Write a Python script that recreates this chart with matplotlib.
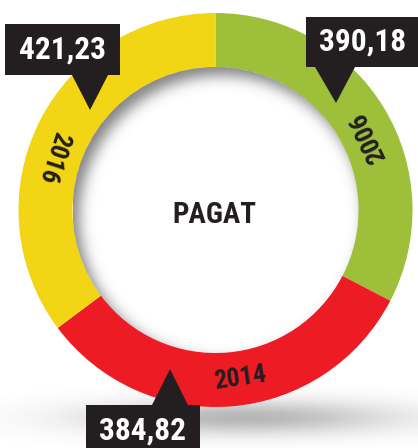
import numpy as np
import matplotlib
matplotlib.use("Agg")
import matplotlib.pyplot as plt
from matplotlib import font_manager as fm
from matplotlib.font_manager import FontProperties
from matplotlib.patches import Polygon, Circle
from math import erf

# ---- data ----
years = ["2006", "2014", "2016"]
values = [390.18, 384.82, 421.23]
value_labels = ["390,18", "384,82", "421,23"]
colors = ["#9DBF3A", "#ED1C24", "#F2D515"]
center_label = "PAGAT"

W, H = 418, 448
DARK = "#231F20"


def has_font(fam):
    try:
        f = fm.findfont(FontProperties(family=fam, weight="bold"), fallback_to_default=False)
        return f
    except Exception:
        return None


def pick_font():
    # (family, size scale)
    f = has_font("Roboto Condensed")
    if f:
        return "Roboto Condensed", 1.1
    f = has_font("Liberation Sans Narrow")
    if f:
        return "Liberation Sans Narrow", 1.1
    f = has_font("Roboto")
    if f:
        return "Roboto", 1.0
    return "Liberation Sans", 0.97


FAM, SC = pick_font()

fig = plt.figure(figsize=(W / 100, H / 100), dpi=100)
ax = fig.add_axes([0, 0, 1, 1])

cx, cy = 215.5, H - 210.0
R, RW = 197.0, 54.0
r_in = R - RW

# ground shadow
gx = np.linspace(0, W, 420)
gy = np.linspace(0, H, 450)
GX, GY = np.meshgrid(gx, gy)
sh = 0.38 * np.exp(-(((GX - 245) / 105.0) ** 2) / 2 - (((GY - (H - 418)) / 12.0) ** 2) / 2)
rgba = np.zeros(GX.shape + (4,))
rgba[..., :3] = 0.25
rgba[..., 3] = sh
ax.imshow(rgba, extent=(0, W, 0, H), origin="lower", zorder=0, interpolation="bilinear")

wedges, _ = ax.pie(values, colors=colors, startangle=90, counterclock=False,
                   radius=R, center=(cx, cy),
                   wedgeprops=dict(width=RW, linewidth=0))
for w in wedges:
    w.set_zorder(2)

# inner shadow
ox, oy = 6.0, -8.0
s = 7.0
xs = np.linspace(cx - r_in, cx + r_in, 400)
ys = np.linspace(cy - r_in, cy + r_in, 400)
XX, YY = np.meshgrid(xs, ys)
d = np.sqrt((XX - (cx + ox)) ** 2 + (YY - (cy + oy)) ** 2)
z = (d - r_in) / s
phi = 0.5 * (1 + np.vectorize(erf)(z / np.sqrt(2)))
ins = np.zeros(XX.shape + (4,))
ins[..., :3] = 0.2
ins[..., 3] = 0.62 * phi
im = ax.imshow(ins, extent=(cx - r_in, cx + r_in, cy - r_in, cy + r_in), origin="lower",
               zorder=3, interpolation="bilinear")
clip = Circle((cx, cy), r_in, transform=ax.transData)
im.set_clip_path(clip)

# year labels along the ring
label_offsets = [-5.8, 3.7, 8.6]
rmid = R - RW / 2
for w, yr, off in zip(wedges, years, label_offsets):
    th = (w.theta1 + w.theta2) / 2 + off
    t = np.deg2rad(th)
    ax.text(cx + rmid * np.cos(t), cy + rmid * np.sin(t), yr, rotation=th + 90,
            rotation_mode="anchor", ha="center", va="center", fontsize=17 * SC,
            fontweight="bold", color=DARK, zorder=5, family=FAM)

ax.text(cx - 1, H - 215, center_label, ha="center", va="center", fontsize=19 * SC,
        fontweight="bold", color=DARK, zorder=5, family=FAM)

# callouts (pixel layout, y down)
callouts = {
    "2016": dict(box=(5, 120, 24, 75), base=(72, 108, 75), tip=(90, 110), txt=(62, 50)),
    "2006": dict(box=(306, 420, 17, 67), base=(315, 355, 67), tip=(336, 103), txt=(363, 42)),
    "2014": dict(box=(86, 200, 405, 450), base=(152, 188, 405), tip=(170, 369), txt=(142, 431)),
}
for yr, lab in zip(years, value_labels):
    c = callouts[yr]
    x0, x1, y0, y1 = c["box"]
    ax.add_patch(Polygon([(x0, H - y0), (x1, H - y0), (x1, H - y1), (x0, H - y1)],
                         closed=True, facecolor=DARK, edgecolor="none", zorder=6))
    bx0, bx1, by = c["base"]
    tx, ty = c["tip"]
    ax.add_patch(Polygon([(bx0, H - by), (bx1, H - by), (tx, H - ty)], closed=True,
                         facecolor=DARK, edgecolor="none", zorder=6))
    ax.text(c["txt"][0], H - c["txt"][1], lab, ha="center", va="center", fontsize=20.5 * SC,
            fontweight="bold", color="white", zorder=7, family=FAM)

ax.set_xlim(0, W)
ax.set_ylim(0, H)
ax.set_aspect("auto")
ax.axis("off")
fig.savefig("out.png", dpi=100, facecolor="white")
